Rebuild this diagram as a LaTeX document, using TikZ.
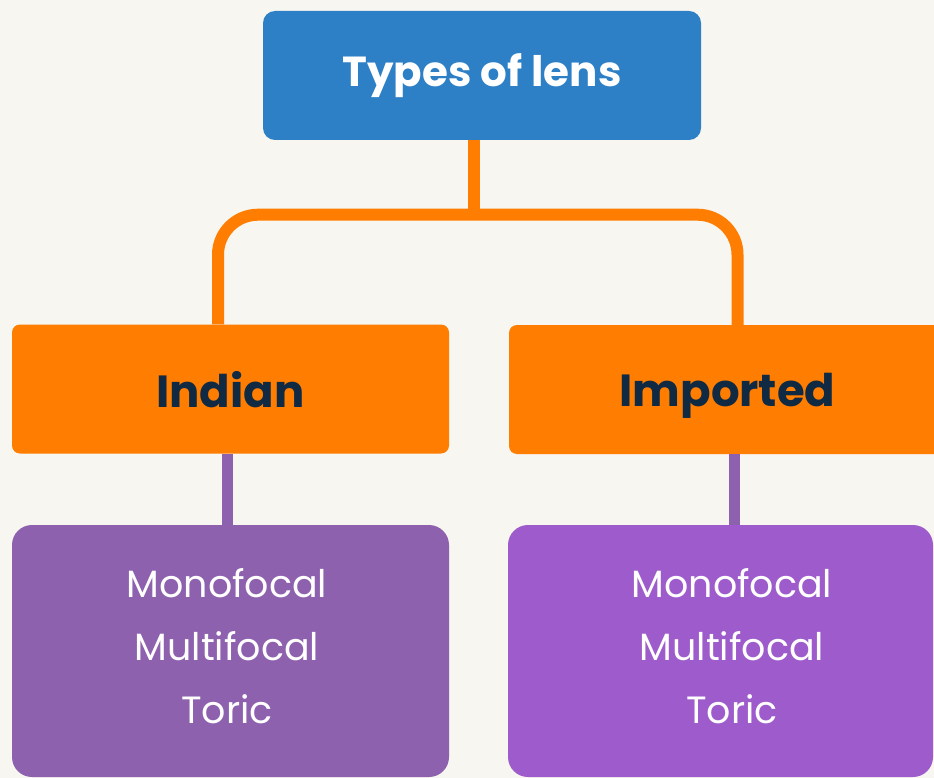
\documentclass[tikz,border=0pt]{standalone}
\usepackage{fontspec}
\setmainfont{Poppins}
\usepackage{xcolor}
\usetikzlibrary{positioning,calc}
\definecolor{pagebg}{RGB}{247, 246, 241}
\definecolor{headblue}{RGB}{45, 127, 198}
\definecolor{lensorange}{RGB}{255, 125, 0}
\definecolor{listviolet}{RGB}{142, 97, 174}
\definecolor{listorchid}{RGB}{157, 91, 203}
\definecolor{darknavy}{RGB}{16, 42, 67}

\begin{document}
\begin{tikzpicture}[x=1pt, y=-1pt,
    headbox/.style={rectangle, rounded corners=12pt, fill=headblue, text=white, inner sep=0pt,
        minimum width=438pt, minimum height=129pt, font=\fontsize{42}{50}\selectfont\bfseries},
    groupbox/.style={rectangle, rounded corners=8pt, fill=lensorange, text=darknavy, inner sep=0pt,
        text depth=0pt, minimum width=437pt, minimum height=129pt, font=\fontsize{45}{54}\selectfont\bfseries},
    listbox/.style={rectangle, rounded corners=20pt, inner sep=0pt,
        minimum width=437pt, minimum height=252pt},
    listtext/.style={text=white, inner sep=0pt, align=center, font=\fontsize{38}{63}\selectfont},
    trunk/.style={draw=lensorange, line width=12pt},
    stem/.style={draw=listviolet, line width=11pt}]
    % page
    \fill[pagebg] (0,0) rectangle (934,778);
    \clip (0,0) rectangle (934,778);
    % Top
    \node[headbox] (types) at (482,75.5) {Types of lens};
    % Groups
    \node[groupbox] (indian) at (230.5,389) {Indian};
    \node[groupbox] (imported) at (727.5,389.5) {Imported};
    % Lists
    \node[listbox, fill=listviolet] (indianlist) at (230.5,651) {};
    \node[listbox, fill=listorchid, minimum width=425pt] (importedlist) at (720.5,651) {};
    \node[listtext] (indianitems) at (227,646) {Monofocal\\Multifocal\\Toric};
    \node[listtext] (importeditems) at (732,646) {Monofocal\\Multifocal\\Toric};
    % Connectors
    \draw[trunk] ([xshift=-8pt]types.south) -- ++(0,74.5) coordinate (fork);
    \draw[trunk, rounded corners=40pt] ([xshift=-12.5pt]indian.north) |- (fork) -| ([xshift=10pt]imported.north);
    \draw[stem] ([xshift=-3.5pt]indian.south) -- ([xshift=-3.5pt]indian.south |- indianlist.north);
    \draw[stem] ([xshift=6.5pt]imported.south) -- ([xshift=6.5pt]imported.south |- importedlist.north);
\end{tikzpicture}
\end{document}
